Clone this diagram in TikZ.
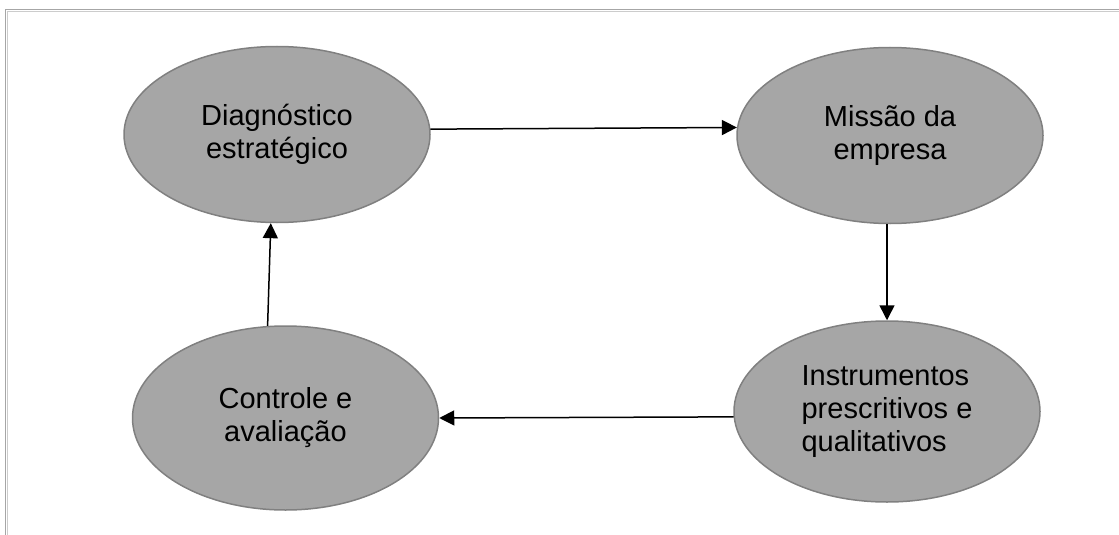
\documentclass[tikz,border=0pt]{standalone}
\usepackage{fontspec}
\setmainfont{Liberation Sans}
\usetikzlibrary{shapes.geometric,arrows.meta}
\tikzset{
  oval/.style={ellipse, draw=gray, line width=1.5pt, fill=gray!70, inner sep=0pt,
               minimum width=306pt, minimum height=176pt, align=center,
               font=\fontsize{29}{33}\selectfont},
  arr/.style={-{Triangle[length=15pt,width=15pt]}, line width=1.5pt},
  frameline/.style={line width=1pt}
}

\begin{document}
\begin{tikzpicture}[x=1pt, y=-1pt]
  \useasboundingbox (0,0) rectangle (1119,535);
  % moldura
  \draw[frameline, gray!70] (5.5,535) -- (5.5,10) -- (1119,10);
  \draw[frameline, gray!40] (7.5,535) -- (7.5,12) -- (1119,12);

  \node[oval] (diag) at (277,134.5) {Diagnóstico\\estratégico};
  \node[oval] (missao) at (890,135.5) {Missão da\\empresa};
  \node[oval, minimum height=181pt, align=left] (instr) at (887,411.5)
    {Instrumentos\\prescritivos e\\qualitativos};
  \node[oval, minimum height=184pt] (ctrl) at (285.5,418) {Controle e\\avaliação};

  \draw[arr] (diag.2.5) -- (missao.177);
  \draw[arr] (missao.south -| instr.north) -- (instr.north);
  \draw[arr] (instr.182) -- (ctrl.0);
  \draw[arr] (ctrl.101.5) -- (diag.266.5);
\end{tikzpicture}
\end{document}
